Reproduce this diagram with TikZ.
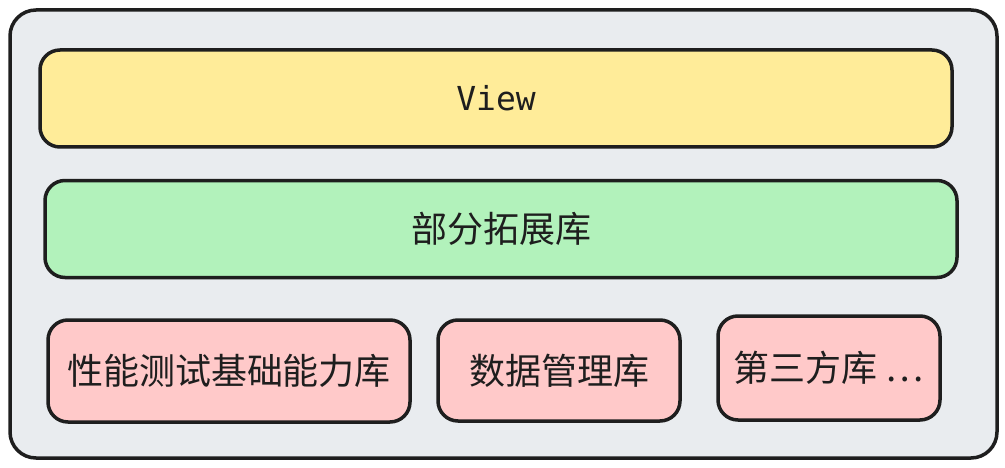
\documentclass[tikz,border=0pt]{standalone}
\usepackage{fontspec}
\newfontfamily\cjkfont{Noto Sans CJK SC}
\newfontfamily\codefont{DejaVu Sans Mono}
\begin{document}
\begin{tikzpicture}[x=1pt,y=1pt,
  box/.style={draw=ink, line width=3.5pt, rounded corners=20pt, inner sep=0pt,
    text=ink, font=\cjkfont\fontsize{36}{40}\selectfont},
  layer/.style={box, minimum width=912pt, minimum height=97pt},
]
\definecolor{ink}{HTML}{1E1E1E}
\definecolor{panel}{HTML}{E9ECEF}
\definecolor{viewfill}{HTML}{FFEC99}
\definecolor{extfill}{HTML}{B2F2BB}
\definecolor{libfill}{HTML}{FFC9C9}
\useasboundingbox (0,0) rectangle (1005,467);
% outer container
\node[box, fill=panel, rounded corners=26pt, minimum width=987pt, minimum height=448pt] (frame) at (503.5,233) {};
% upper layers
\node[layer, fill=viewfill, font=\codefont\fontsize{33}{40}\selectfont] (view) at (496,368.5) {View};
\node[layer, fill=extfill] (ext) at (501,238) {部分拓展库};
% bottom row of libraries
\node[box, fill=libfill, minimum width=362pt, minimum height=102pt] (perf) at (229,96) {性能测试基础能力库};
\node[box, fill=libfill, minimum width=242pt, minimum height=101pt] (data) at (559,96.5) {数据管理库};
\node[box, fill=libfill, minimum width=222pt, minimum height=104pt] (third) at (829,99) {第三方库 \ldots};
\end{tikzpicture}
\end{document}
